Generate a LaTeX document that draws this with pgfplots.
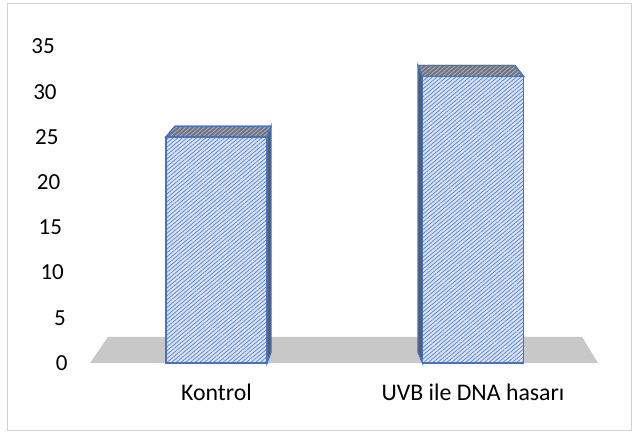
\documentclass[border=0pt]{standalone}
\usepackage{fontspec}
\setmainfont{Carlito}
\usepackage{pgfplots}
\pgfplotsset{compat=1.18}
\usetikzlibrary{patterns.meta}

\definecolor{barblue}{RGB}{68,114,196}
\definecolor{barfill}{RGB}{218,228,246}
\definecolor{hatch}{RGB}{95,135,210}
\definecolor{topgray}{RGB}{112,116,128}
\definecolor{sidegray}{RGB}{88,92,104}
\definecolor{floorgray}{RGB}{200,200,200}

\begin{document}
\begin{tikzpicture}
\useasboundingbox (0,0) rectangle (632pt,432pt);
\draw[gray!35, line width=1pt] (7pt,2pt) rectangle (631pt,428pt);
\begin{axis}[
    at={(90pt,69pt)}, anchor=south west,
    scale only axis,
    width=508pt, height=316.4pt,
    xmin=90, xmax=598,
    ymin=0, ymax=35,
    clip=false,
    axis line style={draw=none},
    major tick length=0pt,
    ytick={0,5,...,35},
    xtick={216.5,473},
    xticklabels={Kontrol,UVB ile DNA hasarı},
    /pgf/number format/assume math mode=true,
    ticklabel style={inner sep=0pt},
    yticklabel style={anchor=east, xshift=-22.3pt, font=\fontsize{23}{27}\selectfont},
    yticklabel={\pgfmathsetmacro\hs{12.7*\tick/35}\pgfmathsetmacro\rs{-3.7*(35-\tick)/35}\raisebox{\rs pt}{\pgfmathprintnumber{\tick}}\hspace*{\hs pt}},
    xticklabel style={anchor=base, yshift=-37pt, font=\fontsize{23.8}{28}\selectfont},
]
% floor
\addplot[draw=none, fill=floorgray] coordinates {(90,0) (598,0) (582,2.9) (108,2.9)} -- cycle;

% side and top faces
\addplot[draw=barblue, line width=1.3pt, fill=sidegray] coordinates {(267,0) (267,25) (271,26.2) (271,1.2)} -- cycle;
\addplot[draw=barblue, line width=1.3pt, fill=topgray,
    postaction={pattern={Lines[angle=40,distance=3pt,line width=0.8pt]}, pattern color=gray!60}]
    coordinates {(166,25) (267,25) (271,26.2) (175,26.2)} -- cycle;
\addplot[draw=barblue, line width=1.3pt, fill=sidegray] coordinates {(422.5,0) (422.5,31.7) (418,32.9) (418,1.2)} -- cycle;
\addplot[draw=barblue, line width=1.3pt, fill=topgray,
    postaction={pattern={Lines[angle=40,distance=3pt,line width=0.8pt]}, pattern color=gray!60}]
    coordinates {(422.5,31.7) (523.5,31.7) (515,32.9) (418,32.9)} -- cycle;

% front faces
\addplot[ybar, bar width=101, bar shift=0pt, draw=barblue, line width=1.5pt, fill=barfill,
    postaction={pattern={Lines[angle=40,distance=3pt,line width=0.8pt]}, pattern color=hatch}]
    coordinates {(216.5,25) (473,31.7)};
\end{axis}
\end{tikzpicture}
\end{document}
